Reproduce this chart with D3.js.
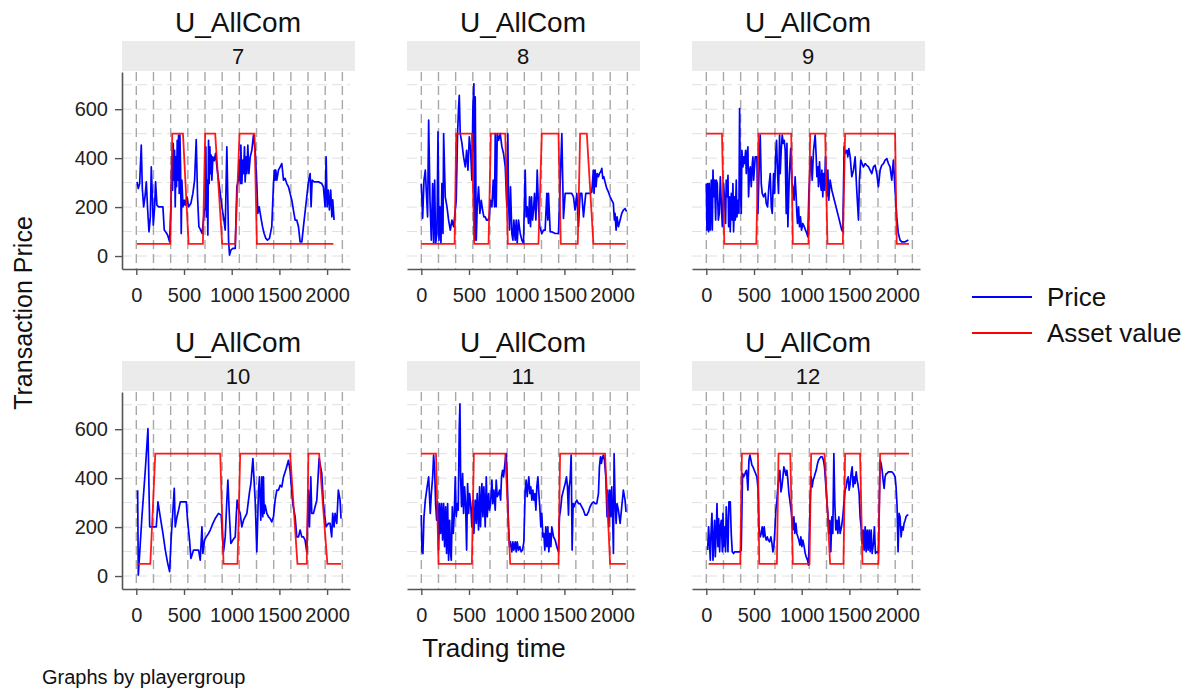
<!DOCTYPE html>
<html>
<head>
<meta charset="utf-8">
<script src="https://cdn.jsdelivr.net/npm/d3@7"></script>
<style>
  body { margin: 0; background: #fff; }
  svg { font-family: "Liberation Sans", Arial, sans-serif; }
</style>
</head>
<body>
<svg id="chart" width="1187" height="688"></svg>
<script>
// groups shown in the grid, read left to right, top to bottom
var groups = [7, 8, 9, 10, 11, 12];
var panelTitle = "U_AllCom";

var xTicks = [0, 500, 1000, 1500, 2000];
var yTicks = [0, 200, 400, 600];
// period boundaries (dashed verticals) and faint horizontal grid
var periodBounds = [0, 180, 360, 540, 720, 900, 1080, 1260, 1440, 1620, 1800, 1980, 2160];
var gridLevels = [0, 100, 200, 300, 400, 500, 600, 700];

// [time, value] pairs
var price7 = [[7,303],[21,276],[35,296],[52,453],[63,276],[77,201],[91,242],[105,303],[119,188],[133,99],[147,160],[157,364],[168,242],[178,126],[192,201],[202,303],[216,208],[234,201],[258,201],[279,201],[293,106],[314,95],[328,86],[349,58],
  [363,201],[373,405],[380,269],[387,460],[394,310],[401,432],[408,201],[415,405],[422,283],[429,473],[436,310],[443,494],[450,256],[457,494],[464,364],[471,92],[478,310],[489,201],[503,228],[513,208],[530,242],[548,201],
  [572,215],[593,256],[611,310],[628,476],[642,242],[656,120],[670,110],[690,92],[712,180],
  [722,201],[729,446],[736,160],[743,310],[750,86],[757,473],[764,296],[771,446],[778,337],[785,412],[792,310],[803,405],[817,390],[831,420],[845,364],[862,310],[880,256],[897,201],[914,160],[932,106],[949,446],[967,65],[977,4],[991,24],[1012,31],[1037,31],
  [1054,283],[1071,310],[1082,392],[1089,296],[1096,453],[1106,296],[1117,392],[1124,337],[1134,446],[1141,303],[1152,405],[1159,337],[1169,453],[1180,337],[1194,405],[1211,432],[1228,494],[1246,432],[1263,296],[1274,174],[1288,201],[1305,160],[1323,120],[1340,92],[1358,72],[1375,65],[1396,72],[1420,120],
  [1438,296],[1448,351],[1455,310],[1462,351],[1473,310],[1490,351],[1508,364],[1525,378],[1543,310],[1560,317],[1577,296],[1595,283],[1612,256],[1630,228],[1647,188],[1665,147],[1682,147],[1700,120],[1717,58],[1735,58],[1752,120],[1769,180],[1787,242],[1804,303],[1822,337],[1832,201],[1843,310],[1864,303],[1885,303],[1909,303],[1944,296],[1961,283],[1979,201],[1990,405],[2000,201],[2013,269],[2024,188],[2038,269],[2050,160],[2059,230],[2073,147]];
var asset7 = [[7,50],[356,50],[377,500],[489,500],[548,50],[698,50],[722,500],[827,500],[900,50],[1037,50],[1082,500],[1239,500],[1264,50],[2066,50]];

var price8 = [[0,296],[14,154],[28,310],[42,351],[52,269],[66,160],[77,555],[91,228],[105,65],[119,296],[129,52],[140,310],[150,52],[164,92],[175,507],[185,65],[195,201],[206,52],[216,296],[227,92],[234,500],[251,242],[269,201],[286,147],[304,106],[321,147],[339,120],
  [366,228],[380,500],[391,609],[398,657],[408,500],[426,460],[443,405],[461,364],[475,432],[489,351],[503,487],[517,432],[530,310],[541,609],[551,704],[558,65],[565,650],[576,65],[586,201],[600,283],[614,174],[628,228],[642,188],[656,160],[670,160],[684,147],[698,147],[712,160],
  [726,228],[740,201],[754,310],[768,201],[775,500],[785,201],[796,500],[810,473],[827,500],[845,446],[862,419],[880,364],[897,201],[907,500],[914,228],[925,106],[935,283],[949,92],[960,65],[970,147],[984,65],[995,147],[1005,52],[1019,147],[1037,92],[1054,65],[1071,52],
  [1089,351],[1099,160],[1110,201],[1124,133],[1134,242],[1145,120],[1155,242],[1166,147],[1176,188],[1187,256],[1201,147],[1215,351],[1228,201],[1242,120],[1263,92],[1281,106],[1298,106],[1316,256],[1326,147],[1333,256],[1351,99],[1368,99],[1403,92],[1438,92],
  [1473,500],[1490,154],[1508,256],[1536,256],[1560,256],[1577,256],[1595,242],[1612,188],[1630,256],[1647,120],[1665,256],[1682,256],[1700,160],[1724,256],[1745,256],[1769,256],[1787,262],[1804,351],[1811,256],[1822,351],[1832,283],[1843,337],[1857,324],[1867,337],[1881,344],[1892,358],[1902,317],[1913,324],[1926,303],[1944,276],[1961,262],[1979,242],[1996,228],[2013,215],[2024,147],[2031,174],[2042,106],[2052,160],[2066,120],[2084,147],[2101,174],[2118,188],[2136,194],[2153,181]];
var asset8 = [[0,50],[349,50],[366,500],[530,500],[555,50],[705,50],[729,500],[880,500],[907,50],[1228,50],[1263,500],[1438,500],[1462,50],[1640,50],[1665,500],[1735,500],[1804,50],[2143,50]];

var price9 = [[0,296],[7,106],[14,296],[24,99],[31,296],[42,106],[52,310],[63,106],[70,351],[77,242],[87,310],[98,147],[105,310],[115,296],[126,147],[136,174],[147,324],[157,215],[168,120],[181,296],[192,228],[202,133],[209,310],[220,242],[227,330],[234,120],[244,242],[251,99],[262,256],[272,147],[279,296],[286,99],[297,242],[304,147],[314,310],[321,160],[332,228],[342,174],[349,602],[356,296],[366,174],[373,432],[384,364],[391,405],[401,378],[412,432],[419,337],[426,405],[436,446],[443,242],[454,351],[461,364],[471,283],[482,378],[489,405],[496,310],[513,405],
  [530,405],[541,174],[551,324],[565,494],[576,296],[586,256],[600,242],[618,256],[628,215],[642,201],[656,283],[670,337],[681,201],[691,174],[705,337],[715,256],[726,405],[736,473],[747,337],[757,256],[768,494],[775,337],[785,432],[796,494],[806,460],[817,473],[827,432],[838,174],[845,460],[855,120],[870,330],[885,440],[897,300],[907,283],[920,228],[931,324],[942,242],[949,174],[956,133],[967,201],[977,120],[987,160],[998,106],[1012,133],[1026,120],[1040,106],[1054,92],[1064,79],
  [1075,256],[1089,364],[1099,405],[1110,310],[1124,432],[1141,494],[1152,405],[1159,324],[1169,364],[1176,283],[1187,385],[1194,310],[1204,269],[1211,351],[1221,242],[1228,337],[1239,269],[1249,405],[1263,242],[1274,351],[1284,228],[1298,310],[1316,269],[1333,242],[1351,215],[1368,188],[1386,160],[1403,133],[1420,106],[1431,99],
  [1445,446],[1455,419],[1473,432],[1483,405],[1494,439],[1508,405],[1525,324],[1543,351],[1560,405],[1577,269],[1595,147],[1605,310],[1619,392],[1633,378],[1647,364],[1665,378],[1682,371],[1700,364],[1717,351],[1735,337],[1752,364],[1769,371],[1787,337],[1804,283],[1822,351],[1839,371],[1857,378],[1874,392],[1892,398],[1909,378],[1926,364],[1944,310],[1961,392],[1979,269],[1996,160],[2013,92],[2031,65],[2048,58],[2066,58],[2084,58],[2118,65]];
var asset9 = [[0,500],[164,500],[189,50],[524,50],[548,500],[890,500],[907,50],[1071,50],[1089,500],[1246,500],[1270,50],[1431,50],[1455,500],[1979,500],[1996,50],[2125,50]];

var price10 = [[14,351],[21,4],[59,242],[94,432],[122,602],[140,201],[164,201],[192,201],[209,201],[227,303],[251,242],[279,174],[304,106],[328,54],[349,18],[366,160],[384,269],[398,358],[408,201],[426,242],[443,269],[461,303],[496,303],[524,303],[537,228],[558,147],[572,72],[600,106],[628,106],[653,106],[670,65],[688,201],[698,92],[715,147],[733,160],[757,174],[775,188],[803,215],[827,235],[862,256],[890,249],
  [914,99],[932,160],[949,310],[960,392],[974,262],[991,133],[1012,147],[1037,160],[1047,242],[1057,310],[1071,276],[1089,256],[1106,201],[1124,228],[1159,256],[1187,344],[1201,378],[1222,480],[1246,310],[1263,99],[1281,351],[1291,405],[1305,228],[1316,405],[1326,242],[1333,405],[1340,256],[1351,290],[1368,256],[1386,242],[1403,235],[1420,221],[1438,242],[1455,310],[1473,351],[1490,351],[1508,371],[1525,364],[1543,405],[1571,439],[1595,473],[1612,432],
  [1640,296],[1665,242],[1682,160],[1700,160],[1717,188],[1735,160],[1752,160],[1769,147],[1787,99],[1804,351],[1815,201],[1829,405],[1839,256],[1857,256],[1874,283],[1892,310],[1916,480],[1944,419],[1961,296],[1989,201],[2013,215],[2031,215],[2048,160],[2059,256],[2073,201],[2084,256],[2101,215],[2118,351],[2136,310],[2146,235]];
var asset10 = [[14,50],[147,50],[199,500],[880,500],[914,50],[1061,50],[1089,500],[1612,500],[1689,50],[1787,50],[1804,500],[1916,500],[2003,50],[2146,50]];

var price11 = [[0,249],[7,99],[17,92],[28,242],[42,310],[59,358],[77,405],[94,256],[105,337],[119,405],[129,494],[140,432],[150,296],[161,228],[171,303],[181,106],[192,296],[202,174],[213,296],[223,147],[234,296],[244,120],[255,283],[265,92],[276,296],[286,65],[297,228],[307,92],[314,65],[325,283],[335,174],[346,256],[356,405],[366,242],[377,296],[387,269],[398,609],[405,704],[412,405],[422,283],[433,419],[443,256],[454,364],[464,296],[475,106],[485,378],[496,256],[506,337],[517,296],[530,201],
  [541,310],[551,174],[565,310],[576,215],[586,337],[600,188],[611,364],[621,201],[635,378],[646,242],[656,364],[670,201],[681,405],[691,242],[705,337],[715,269],[726,296],[740,392],[750,296],[761,351],[775,269],[785,392],[796,324],[810,337],[820,351],[831,310],[841,405],[852,432],[862,405],[873,446],[880,473],[890,500],[900,405],[914,201],[925,120],[935,140],[949,99],[960,140],[970,106],[984,140],[995,99],[1005,140],[1019,106],[1033,120],[1047,99],[1061,106],[1075,140],
  [1089,351],[1099,392],[1110,324],[1117,358],[1127,405],[1138,337],[1148,364],[1159,310],[1169,351],[1180,310],[1190,337],[1201,269],[1211,364],[1222,405],[1232,337],[1242,283],[1253,201],[1263,256],[1274,160],[1284,174],[1295,106],[1305,201],[1316,120],[1326,201],[1337,99],[1347,174],[1358,120],[1368,201],[1386,160],[1403,147],[1420,120],[1438,99],
  [1448,242],[1459,269],[1473,324],[1490,351],[1508,378],[1522,405],[1532,364],[1543,249],[1550,364],[1560,392],[1571,494],[1581,106],[1591,296],[1602,283],[1612,296],[1630,310],[1647,296],[1665,296],[1682,283],[1700,269],[1717,249],[1735,249],[1752,262],[1769,283],[1787,296],[1804,303],[1822,296],[1839,296],[1857,337],[1867,446],[1878,487],[1888,460],[1899,487],[1909,494],[1920,473],[1934,405],[1947,242],[1954,351],[1965,201],[1975,351],[1986,242],[1996,364],[2007,215],[2014,92],[2021,500],[2031,310],[2042,215],[2052,296],[2066,269],[2084,215],[2101,283],[2118,351],[2136,310],[2146,262]];
var asset11 = [[0,500],[154,500],[181,50],[530,50],[551,500],[880,500],[932,50],[1438,50],[1455,500],[1926,500],[1979,50],[2143,50]];

var price12 = [[14,106],[24,201],[35,120],[42,65],[49,174],[59,256],[70,65],[77,147],[87,228],[94,79],[105,188],[112,296],[122,120],[129,235],[140,99],[147,201],[157,228],[168,99],[175,256],[181,120],[192,201],[202,99],[209,283],[220,188],[227,99],[237,303],[251,303],[262,167],[272,99],[286,92],[297,99],[307,99],[321,99],[335,99],[349,99],[366,106],
  [380,419],[391,405],[401,412],[412,426],[422,432],[436,351],[447,473],[457,494],[468,473],[478,453],[489,446],[503,432],[517,419],[530,405],[544,351],[551,201],[565,160],[576,174],[586,201],[597,160],[607,201],[618,160],[628,147],[639,160],[649,147],[663,140],[677,160],[688,133],[698,99],[708,120],[719,188],
  [729,269],[740,310],[750,364],[761,405],[771,432],[782,344],[792,364],[803,405],[813,446],[824,432],[834,412],[845,432],[855,392],[866,337],[880,296],[893,256],[907,188],[918,242],[928,174],[939,215],[949,174],[960,160],[970,147],[981,126],[991,160],[1002,120],[1012,147],[1026,120],[1037,92],[1047,79],[1061,65],[1071,45],
  [1089,310],[1099,405],[1110,364],[1120,392],[1131,405],[1141,419],[1152,432],[1166,460],[1176,473],[1187,480],[1201,487],[1215,487],[1228,473],[1239,446],[1249,392],[1263,310],[1274,256],[1284,174],[1295,228],[1305,99],[1316,242],[1326,174],[1337,500],[1347,296],[1358,188],[1368,228],[1379,174],[1389,242],[1403,174],[1417,201],[1431,242],
  [1445,310],[1455,351],[1466,364],[1476,392],[1487,405],[1497,351],[1508,378],[1518,419],[1529,446],[1539,364],[1550,405],[1560,378],[1571,426],[1581,392],[1591,371],[1602,337],[1612,242],[1623,201],[1633,133],[1644,188],[1654,106],[1665,201],[1675,99],[1686,188],[1696,106],[1707,188],[1717,99],[1728,188],[1738,92],[1752,133],[1762,201],[1773,92],[1787,99],[1804,95],
  [1822,473],[1832,460],[1843,432],[1853,392],[1864,358],[1874,405],[1885,419],[1895,419],[1909,426],[1926,426],[1944,426],[1961,419],[1979,405],[1989,364],[2000,283],[2010,99],[2021,256],[2031,242],[2042,160],[2052,201],[2063,188],[2073,215],[2084,228],[2094,242],[2105,249],[2118,249]];
var asset12 = [[24,50],[356,50],[373,500],[541,500],[555,50],[740,50],[757,500],[880,500],[907,50],[1082,50],[1099,500],[1239,500],[1298,50],[1438,50],[1455,500],[1612,500],[1637,50],[1804,50],[1822,500],[2125,500]];

var priceSeries = [price7, price8, price9, price10, price11, price12];
var assetSeries = [asset7, asset8, asset9, asset10, asset11, asset12];

var legendLabels = ["Price", "Asset value"];
var seriesColors = ["#0000ff", "#ff0000"];

var svg = d3.select("#chart");

var plotLeft = 122, plotTop = 72, colStep = 285, rowStep = 320,
    plotW = 228, plotH = 197;

var x = d3.scaleLinear().domain([-150, 2240]).range([0, plotW]);
var y = d3.scaleLinear().domain([-53, 752]).range([plotH, 0]);

var line = d3.line()
    .x(function (d) { return x(d[0]); })
    .y(function (d) { return y(d[1]); });

groups.forEach(function (grp, i) {
  var col = i % 3, row = Math.floor(i / 3);
  var ox = plotLeft + col * colStep, oy = plotTop + row * rowStep;
  var g = svg.append("g").attr("transform", "translate(" + ox + "," + oy + ")");

  // title and strip
  g.append("text")
      .attr("x", 116).attr("y", -40)
      .attr("text-anchor", "middle")
      .attr("font-size", 28).attr("fill", "#111")
      .text(panelTitle);
  g.append("rect")
      .attr("x", 0).attr("y", -31).attr("width", 233).attr("height", 30)
      .attr("fill", "#ebebeb");
  g.append("text")
      .attr("x", 116).attr("y", -8)
      .attr("text-anchor", "middle")
      .attr("font-size", 22).attr("fill", "#111")
      .text(grp);

  // faint horizontal grid
  g.selectAll(".hg").data(gridLevels).enter().append("line")
      .attr("x1", 0).attr("x2", plotW)
      .attr("y1", function (d) { return y(d); })
      .attr("y2", function (d) { return y(d); })
      .attr("stroke", "#e0e0e0").attr("stroke-width", 1)
      .attr("stroke-dasharray", "10,5");

  // period boundaries
  g.selectAll(".vg").data(periodBounds).enter().append("line")
      .attr("x1", function (d) { return x(d); })
      .attr("x2", function (d) { return x(d); })
      .attr("y1", 0).attr("y2", plotH)
      .attr("stroke", "#a8a8a8").attr("stroke-width", 1.4)
      .attr("stroke-dasharray", "9,5");

  g.append("path").datum(priceSeries[i])
      .attr("d", line).attr("fill", "none")
      .attr("stroke", seriesColors[0]).attr("stroke-width", 1.7)
      .attr("stroke-linejoin", "round");
  g.append("path").datum(assetSeries[i])
      .attr("d", line).attr("fill", "none")
      .attr("stroke", seriesColors[1]).attr("stroke-width", 1.8)
      .attr("stroke-opacity", 0.9);

  var xa = g.append("g")
      .attr("transform", "translate(0," + plotH + ")")
      .call(d3.axisBottom(x).tickValues(xTicks).tickFormat(d3.format("d"))
        .tickSize(6).tickSizeOuter(0).tickPadding(13));
  styleAxis(xa);

  if (col === 0) {
    var ya = g.append("g")
        .call(d3.axisLeft(y).tickValues(yTicks).tickSize(7).tickSizeOuter(0).tickPadding(7));
    styleAxis(ya);
  }
});

function styleAxis(a) {
  a.select(".domain").attr("stroke", "#555").attr("stroke-width", 1.6);
  a.selectAll(".tick line").attr("stroke", "#555").attr("stroke-width", 1.4);
  a.selectAll(".tick text")
      .attr("font-size", 20).attr("fill", "#222")
      .attr("font-family", "'Liberation Sans', Arial, sans-serif");
}

// axis titles
svg.append("text")
    .attr("x", 494).attr("y", 657)
    .attr("text-anchor", "middle").attr("font-size", 26).attr("fill", "#111")
    .text("Trading time");
svg.append("text")
    .attr("transform", "translate(32,313) rotate(-90)")
    .attr("text-anchor", "middle").attr("font-size", 25).attr("fill", "#111")
    .text("Transaction Price");

svg.append("text")
    .attr("x", 42).attr("y", 684)
    .attr("font-size", 20).attr("fill", "#111")
    .text("Graphs by playergroup");

// legend
var lg = svg.append("g").attr("transform", "translate(972,297)");
legendLabels.forEach(function (lab, k) {
  lg.append("line")
      .attr("x1", 0).attr("x2", 60)
      .attr("y1", k * 36).attr("y2", k * 36)
      .attr("stroke", seriesColors[k]).attr("stroke-width", 1.8);
  lg.append("text")
      .attr("x", 75).attr("y", k * 36 + 9)
      .attr("font-size", 26).attr("fill", "#111")
      .text(lab);
});
</script>
</body>
</html>
